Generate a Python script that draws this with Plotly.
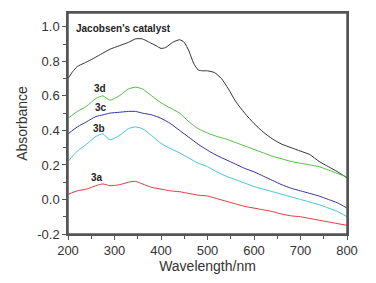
import plotly.graph_objects as go

wl_jac = [200, 210, 220, 235, 250, 270, 290, 310, 330, 345, 360, 375, 390, 400, 410, 425, 440, 450, 460, 470, 480, 490, 500, 515, 530, 545, 560, 580, 600, 620, 640, 660, 680, 700, 720, 740, 760, 780, 800]
jac = [0.70, 0.74, 0.77, 0.79, 0.81, 0.84, 0.87, 0.89, 0.91, 0.93, 0.93, 0.91, 0.89, 0.875, 0.88, 0.91, 0.925, 0.91, 0.86, 0.79, 0.75, 0.745, 0.745, 0.735, 0.70, 0.64, 0.57, 0.50, 0.44, 0.39, 0.35, 0.32, 0.30, 0.28, 0.26, 0.22, 0.19, 0.16, 0.125]

wl = [200, 220, 240, 260, 275, 290, 310, 330, 345, 360, 380, 400, 420, 440, 460, 480, 500, 520, 540, 560, 580, 600, 620, 640, 660, 680, 700, 720, 740, 760, 780, 800]
s3d = [0.47, 0.51, 0.54, 0.585, 0.60, 0.575, 0.60, 0.64, 0.65, 0.64, 0.60, 0.56, 0.53, 0.50, 0.45, 0.41, 0.385, 0.365, 0.35, 0.33, 0.31, 0.29, 0.27, 0.25, 0.235, 0.22, 0.21, 0.20, 0.19, 0.17, 0.15, 0.13]
s3c = [0.38, 0.42, 0.45, 0.48, 0.49, 0.50, 0.505, 0.51, 0.51, 0.50, 0.49, 0.47, 0.44, 0.40, 0.36, 0.32, 0.285, 0.255, 0.23, 0.205, 0.18, 0.16, 0.135, 0.11, 0.085, 0.065, 0.05, 0.035, 0.02, 0.0, -0.02, -0.05]
s3b = [0.22, 0.28, 0.32, 0.365, 0.38, 0.345, 0.37, 0.41, 0.42, 0.41, 0.37, 0.325, 0.295, 0.27, 0.24, 0.21, 0.19, 0.16, 0.135, 0.115, 0.095, 0.075, 0.06, 0.045, 0.03, 0.015, 0.0, -0.015, -0.03, -0.05, -0.07, -0.10]
s3a = [0.03, 0.05, 0.06, 0.08, 0.09, 0.08, 0.085, 0.10, 0.105, 0.09, 0.07, 0.06, 0.05, 0.045, 0.035, 0.025, 0.02, 0.005, -0.01, -0.025, -0.04, -0.05, -0.06, -0.07, -0.085, -0.095, -0.10, -0.11, -0.12, -0.13, -0.14, -0.15]

labels = ["Jacobsen's catalyst", "3d", "3c", "3b", "3a"]
label_x = [213, 269, 272, 266, 263]
label_y = [0.99, 0.645, 0.53, 0.41, 0.13]

colors = ["#333333", "#4fc042", "#3434a0", "#45c4d0", "#e03a3a"]

fig = go.Figure()
series = [(wl_jac, jac), (wl, s3d), (wl, s3c), (wl, s3b), (wl, s3a)]
for (x, y), c in zip(series, colors):
    fig.add_trace(go.Scatter(x=x, y=y, mode="lines", line=dict(color=c, width=1.0, shape="spline", smoothing=0.6), showlegend=False))

for i, t in enumerate(labels):
    fig.add_annotation(x=label_x[i], y=label_y[i], text="<b>%s</b>" % t, showarrow=False,
                       xanchor="left" if i == 0 else "center", yanchor="middle",
                       font=dict(family="Liberation Sans, Arial", size=10, color="#222222"))

# frame around the plotting area
fig.add_shape(type="rect", xref="paper", yref="paper", x0=0, x1=1, y0=0, y1=1,
              line=dict(color="#555555", width=1.5), fillcolor="rgba(0,0,0,0)", layer="above")

axis_common = dict(showline=True, linecolor="#555555", linewidth=1.5, mirror=True, showgrid=False, zeroline=False,
                   ticks="outside", ticklen=4, tickcolor="#555555",
                   tickfont=dict(family="Liberation Sans, Arial", size=13, color="#333333"))

fig.update_layout(
    width=360, height=267,
    margin=dict(l=60, r=21, t=3, b=41),
    paper_bgcolor="white", plot_bgcolor="white",
    xaxis=dict(range=[200, 800], dtick=100, tick0=200,
               minor=dict(dtick=50, ticks="outside", ticklen=3, tickcolor="#555555"),
               title=dict(text="Wavelength/nm", font=dict(family="Liberation Sans, Arial", size=14, color="#333333"), standoff=4),
               **axis_common),
    yaxis=dict(range=[-0.2, 1.08], tickvals=[-0.2, 0.0, 0.2, 0.4, 0.6, 0.8, 1.0],
               ticktext=["-0.2", "0.0", "0.2", "0.4", "0.6", "0.8", "1.0"],
               minor=dict(tickvals=[-0.1, 0.1, 0.3, 0.5, 0.7, 0.9], ticks="outside", ticklen=3, tickcolor="#555555"),
               title=dict(text="Absorbance", font=dict(family="Liberation Sans, Arial", size=14, color="#333333"), standoff=6),
               **axis_common),
)

fig.write_html("out.html")
